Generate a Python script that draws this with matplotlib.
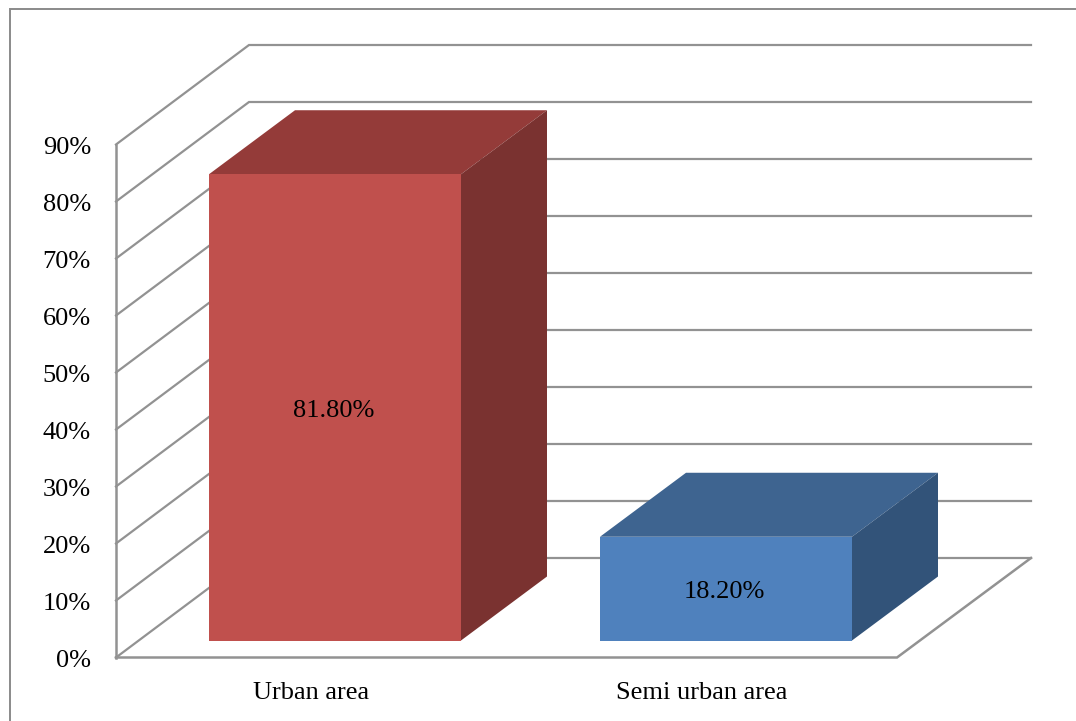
import matplotlib
matplotlib.use("Agg")
import matplotlib.pyplot as plt
from matplotlib.patches import Polygon

categories = ["Urban area", "Semi urban area"]
values = [81.8, 18.2]
value_labels = ["81.80%", "18.20%"]
ticks = [0, 10, 20, 30, 40, 50, 60, 70, 80, 90]

face_colors = ["#C0504D", "#4F81BD"]
top_colors = ["#943B39", "#3E6490"]
side_colors = ["#7A3230", "#325379"]
GRID = "#929292"

W, H = 1076, 721
UNIT = 5.7               # pixels per percentage point
ZERO_Y = 657.5           # wall baseline
LEFT_X, FLOOR_RIGHT = 116, 897
WALL_DX, WALL_DY = 133, -99.5
BAR_BASE_Y = 640.5
BAR_DX, BAR_DY = 86, -64
BAR_WIDTH = 252
BAR_LEFT = [209, 600]
FONT_SIZE = 19

plt.rcParams["font.family"] = ["Liberation Serif", "DejaVu Serif"]

fig = plt.figure(figsize=(W / 100, H / 100), dpi=100)
ax = fig.add_axes([0, 0, 1, 1])
ax.set_xlim(0, W)
ax.set_ylim(H, 0)
ax.axis("off")

# chart frame: left and top edges only, the rest runs off the page
ax.plot([10, 10, W + 5], [H + 5, 8.5, 8.5], color="#8A8A8A", lw=1.4,
        solid_joinstyle="miter", clip_on=True)

# gridlines running across the side wall and back wall
for t in ticks:
    y = ZERO_Y - t * UNIT
    ax.plot([LEFT_X, LEFT_X + WALL_DX, 1031],
            [y, y + WALL_DY, y + WALL_DY],
            color=GRID, lw=1.6, solid_joinstyle="miter")
    ax.text(91, y + 3.5, f"{t}%", ha="right", va="center", fontsize=FONT_SIZE, color="black")

# wall edge and floor outline
top_y = ZERO_Y - ticks[-1] * UNIT
ax.plot([LEFT_X, LEFT_X], [top_y, ZERO_Y], color=GRID, lw=1.8)
ax.plot([LEFT_X, FLOOR_RIGHT, 1031], [ZERO_Y, ZERO_Y, ZERO_Y + WALL_DY],
        color=GRID, lw=1.8, solid_joinstyle="miter")

# 3D columns
for name, val, lab, left, fc, tc, sc in zip(categories, values, value_labels, BAR_LEFT,
                                            face_colors, top_colors, side_colors):
    right = left + BAR_WIDTH
    top = BAR_BASE_Y - val * UNIT
    ax.add_patch(Polygon([(left, top), (right, top), (right + BAR_DX, top + BAR_DY),
                          (left + BAR_DX, top + BAR_DY)], closed=True, fc=tc, ec="none", zorder=3))
    ax.add_patch(Polygon([(right, top), (right + BAR_DX, top + BAR_DY),
                          (right + BAR_DX, BAR_BASE_Y + BAR_DY), (right, BAR_BASE_Y)],
                         closed=True, fc=sc, ec="none", zorder=3))
    ax.add_patch(Polygon([(left, top), (right, top), (right, BAR_BASE_Y), (left, BAR_BASE_Y)],
                         closed=True, fc=fc, ec="none", zorder=4))
    ax.text(left + BAR_WIDTH / 2 - 1.5, (top + BAR_BASE_Y) / 2 + 3.5, lab, ha="center", va="center",
            fontsize=FONT_SIZE, color="black", zorder=5)
    ax.text(left + BAR_WIDTH / 2 - 24, 693, name,
            ha="center", va="center", fontsize=FONT_SIZE, color="black")

fig.savefig("out.png", dpi=100)
